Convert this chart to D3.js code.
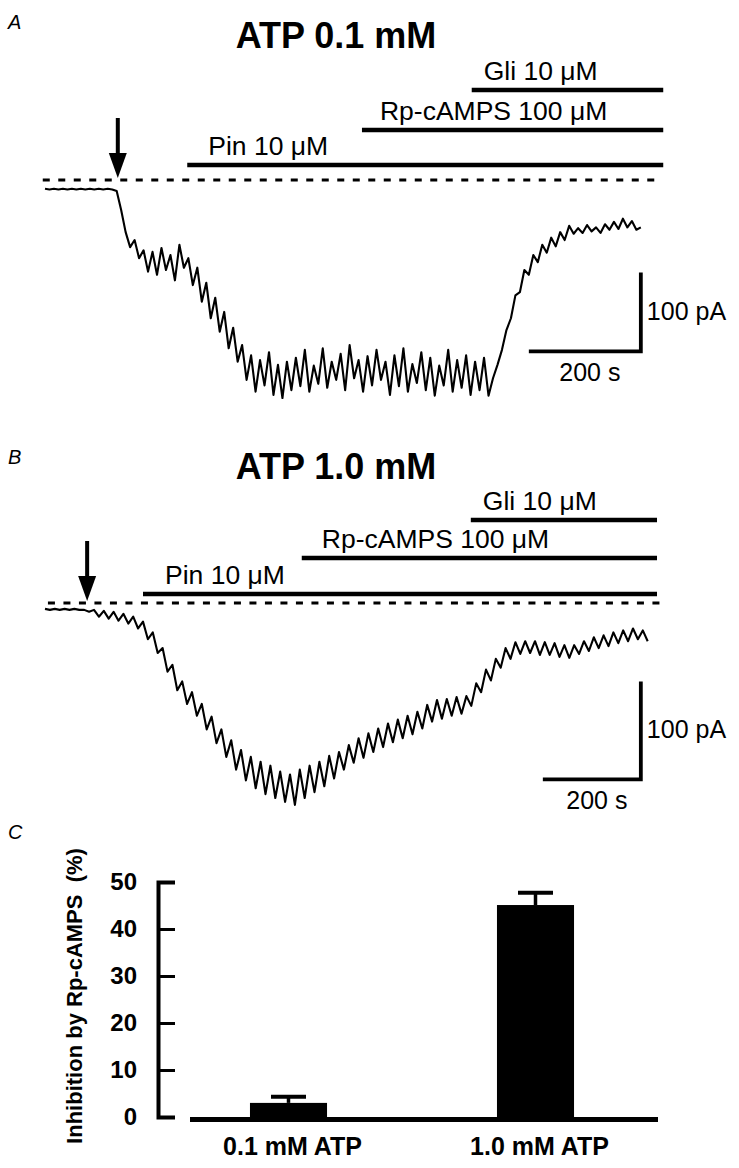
<!DOCTYPE html>
<html><head><meta charset="utf-8">
<script src="https://cdn.jsdelivr.net/npm/d3@7"></script>
<style>
body{margin:0;background:#fff}
svg{display:block;font-family:Arial,"Liberation Sans",Helvetica,sans-serif}
</style></head><body>
<svg id="c" width="739" height="1168"></svg>
<script>
// ---------------- DATA ----------------
// Panel A: whole-cell current trace (pA), one sample every traceA_dt seconds
const traceA_dt = 8;
const traceA_pA = [
 -11,-12,-11,-12,-11,-12,-11,-12,-11,-12,-11,-12,-11,-12,-11,-12,
 -14,-38,-66,-85,-76,-99,-89,-116,-91,-120,-86,-114,-95,-127,-82,-111,
 -99,-133,-111,-154,-130,-175,-149,-192,-167,-213,-187,-230,-209,-253,
 -222,-268,-228,-260,-218,-272,-234,-276,-230,-266,
 -225,-261,-215,-268,-235,-258,-213,-263,-230,-253,
 -220,-266,-209,-251,-228,-268,-223,-260,-215,-253,
 -230,-272,-222,-261,-213,-268,-233,-257,-218,-266,
 -225,-273,-235,-260,-215,-268,-228,-263,-222,-272,
 -230,-266,-225,-273,
 -251,-234,-215,-190,-175,-146,-142,-114,-120,-95,-104,-82,-92,-73,-84,-66,-76,
 -58,-68,-61,-67,-57,-65,-60,-67,-56,-63,-53,-62,-49,-60,-52,-63,-60
];
// Panel B: whole-cell current trace (pA), one sample every traceB_dt seconds
const traceB_dt = 10;
const traceB_pA = [
 -6,-7,-6,-7,-6,-7,-6,-7,-7,-9,-7,-14,-8,-16,-9,-18,-11,-21,-14,-26,
 -19,-37,-30,-51,-46,-70,-63,-89,-80,-103,-91,-115,-103,-129,-116,-143,-129,-157,-140,-170,
 -150,-181,-157,-189,-162,-195,-166,-199,-172,-203,-175,-206,-170,-199,-166,-193,-162,-187,-156,-179,
 -152,-170,-145,-163,-138,-158,-133,-152,-128,-147,-123,-142,-119,-138,-115,-134,-111,-128,-104,-121,
 -99,-118,-98,-115,-96,-113,-95,-105,-82,-91,-68,-79,-57,-66,-46,-57,-40,-52,-39,-51,
 -39,-53,-40,-53,-41,-55,-43,-56,-43,-52,-39,-49,-35,-46,-33,-44,-30,-41,-28,-39,
 -26,-37,-28,-39
];
// Drug applications (seconds from trace start)
const drugNames = ["Pin 10 \u03bcM", "Rp-cAMPS 100 \u03bcM", "Gli 10 \u03bcM"];
const drugStartA = [254, 566, 762];
const drugEndA = 1104;
const drugStartB = [200, 524, 869];
const drugEndB = 1249;
const arrowTimeA = 130;
const arrowTimeB = 86;
const dashedA = [-4, 1100];
const dashedB = [6, 1255];
const titles = ["ATP 0.1 mM", "ATP 1.0 mM"];
// Scale bars
const scaleBarTime = 200;     // s
const scaleBarCurrent = 100;  // pA
const scaleCornerA = [1064, -217];
const scaleCornerB = [1216, -180];

// Panel C
const categoriesC = ["0.1 mM ATP", "1.0 mM ATP"];
const valuesC = [3.0, 45.1];
const semC = [1.3, 2.6];
const ticksC = [0, 10, 20, 30, 40, 50];
const yLabelC = "Inhibition by Rp-cAMPS  (%)";

// ---------------- DRAW ----------------
const svg = d3.select("#c");

function panel(cfg) {
  const g = svg.append("g");
  const x = d3.scaleLinear().domain([0, 1000]).range([45, 45 + 1000 * cfg.pxPerS]);
  const y = d3.scaleLinear().domain([0, -100]).range([cfg.y0, cfg.y0 + 100 * cfg.pxPerPA]);

  // panel letter & title
  g.append("text").attr("x", 8).attr("y", cfg.letterY).attr("font-size", 20)
    .attr("font-style", "italic").text(cfg.letter);
  g.append("text").attr("x", 336).attr("y", cfg.titleY).attr("font-size", 36)
    .attr("font-weight", "bold").attr("text-anchor", "middle").text(cfg.title);

  // drug bars
  cfg.starts.forEach((s, i) => {
    g.append("line").attr("x1", x(s)).attr("x2", x(cfg.end))
      .attr("y1", cfg.barY[i]).attr("y2", cfg.barY[i])
      .attr("stroke", "#000").attr("stroke-width", 4.5);
    g.append("text").attr("x", x(s) + cfg.labelDx[i]).attr("y", cfg.barY[i] - 10)
      .attr("font-size", 26.5).text(drugNames[i]);
  });

  // dashed zero line
  g.append("line").attr("x1", x(cfg.dashed[0])).attr("x2", x(cfg.dashed[1]))
    .attr("y1", y(0)).attr("y2", y(0))
    .attr("stroke", "#000").attr("stroke-width", 3.2).attr("stroke-dasharray", "7,8.5");

  // arrow
  const ax = x(cfg.arrowT), tip = y(0) - 2;
  g.append("line").attr("x1", ax).attr("x2", ax).attr("y1", tip - 60).attr("y2", tip - 22)
    .attr("stroke", "#000").attr("stroke-width", 4);
  g.append("path").attr("d", `M${ax - 9},${tip - 25}L${ax + 9},${tip - 25}L${ax},${tip}Z`)
    .attr("fill", "#000");

  // trace
  const line = d3.line().x((d, i) => x(i * cfg.dt)).y(d => y(d));
  g.append("path").datum(cfg.trace).attr("d", line)
    .attr("fill", "none").attr("stroke", "#000").attr("stroke-width", 2.1)
    .attr("stroke-linejoin", "round");

  // scale bars
  const cx = x(cfg.corner[0]), cy = y(cfg.corner[1]);
  const x0 = x(cfg.corner[0] - scaleBarTime), yTop = y(cfg.corner[1] + scaleBarCurrent);
  g.append("path").attr("d", `M${x0},${cy}H${cx}V${yTop}`)
    .attr("fill", "none").attr("stroke", "#000").attr("stroke-width", 3.8);
  g.append("text").attr("x", cx + 6).attr("y", (cy + yTop) / 2 + 8).attr("font-size", 25)
    .text(scaleBarCurrent + " pA");
  g.append("text").attr("x", (x0 + cx) / 2 + 5).attr("y", cy + 30).attr("font-size", 25)
    .attr("text-anchor", "middle").text(scaleBarTime + " s");
}

panel({letter: "A", letterY: 29, title: titles[0], titleY: 48,
  pxPerS: 0.56, y0: 180, pxPerPA: 0.79, dt: traceA_dt, trace: traceA_pA,
  starts: drugStartA, end: drugEndA, barY: [165, 130, 90], labelDx: [21, 18, 12],
  dashed: dashedA, arrowT: arrowTimeA, corner: scaleCornerA});

panel({letter: "B", letterY: 464, title: titles[1], titleY: 479,
  pxPerS: 0.49, y0: 603, pxPerPA: 0.98, dt: traceB_dt, trace: traceB_pA,
  starts: drugStartB, end: drugEndB, barY: [594, 558, 520], labelDx: [22, 20, 12],
  dashed: dashedB, arrowT: arrowTimeB, corner: scaleCornerB});

// ---------------- Panel C ----------------
const gC = svg.append("g");
gC.append("text").attr("x", 8).attr("y", 839).attr("font-size", 20)
  .attr("font-style", "italic").text("C");

const yC = d3.scaleLinear().domain([0, 50]).range([1117, 882]);
const xC = d3.scaleBand().domain(categoriesC).range([165, 659])
  .paddingInner(0.688).paddingOuter(0.344);

// baseline
gC.append("line").attr("x1", 190).attr("x2", 658).attr("y1", yC(0) + 2.5).attr("y2", yC(0) + 2.5)
  .attr("stroke", "#000").attr("stroke-width", 5);

// bars
gC.selectAll("rect.bar").data(valuesC).join("rect").attr("class", "bar")
  .attr("x", (d, i) => xC(categoriesC[i])).attr("width", xC.bandwidth())
  .attr("y", d => yC(d)).attr("height", d => yC(0) - yC(d) + 2).attr("fill", "#000");

// error bars
valuesC.forEach((v, i) => {
  const cx = xC(categoriesC[i]) + xC.bandwidth() / 2;
  gC.append("line").attr("x1", cx).attr("x2", cx).attr("y1", yC(v)).attr("y2", yC(v + semC[i]))
    .attr("stroke", "#000").attr("stroke-width", 3.5);
  gC.append("line").attr("x1", cx - 17.5).attr("x2", cx + 17.5)
    .attr("y1", yC(v + semC[i])).attr("y2", yC(v + semC[i]))
    .attr("stroke", "#000").attr("stroke-width", 4);
});

// y axis
const axC = gC.append("g").attr("transform", "translate(158,0)")
  .call(d3.axisLeft(yC).tickValues(ticksC).tickSize(-17).tickSizeOuter(-17).tickPadding(21));
axC.select(".domain").attr("stroke-width", 4);
axC.selectAll(".tick line").attr("stroke-width", 3);
axC.selectAll(".tick text").attr("font-size", 24).attr("font-weight", "bold")
  .attr("font-family", "Arial, 'Liberation Sans', sans-serif").attr("fill", "#000");

// x labels
gC.selectAll("text.xl").data(categoriesC).join("text").attr("class", "xl")
  .attr("x", d => xC(d) + xC.bandwidth() / 2 + 4).attr("y", 1155)
  .attr("text-anchor", "middle").attr("font-size", 25).attr("font-weight", "bold").text(d => d);

// y label
gC.append("text").attr("transform", "translate(82,996) rotate(-90)")
  .attr("text-anchor", "middle").attr("font-size", 22).attr("font-weight", "bold")
  .style("white-space", "pre").text(yLabelC);
</script>
</body></html>
